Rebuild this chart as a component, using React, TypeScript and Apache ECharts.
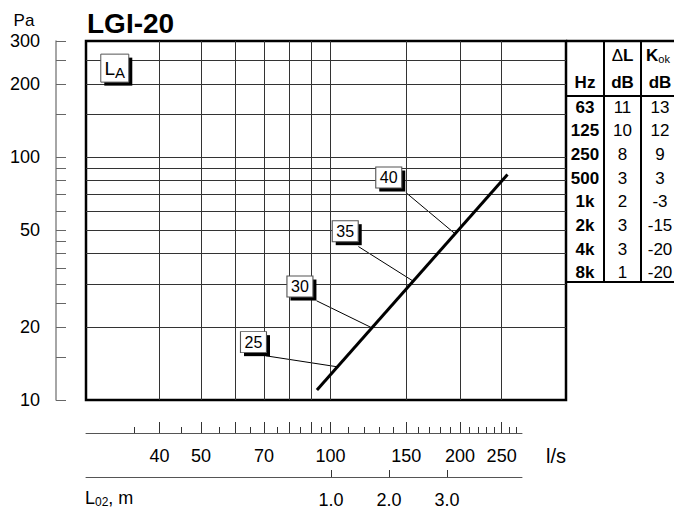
import React, { useEffect, useRef } from "react";
import * as echarts from "echarts";

const FONT = "'Liberation Sans', Arial, Helvetica, sans-serif";

// fan characteristic (flow l/s, pressure Pa)
const curveFlow = [93, 258];
const curvePressure = [11, 84.7];

// sound level markers (dB(A)) along the characteristic
const levelTexts = ["25", "30", "35", "40"];
const boxFlow = [66.2, 84.9, 108.2, 136.6];
const boxPressure = [17.3, 29.3, 49.5, 82.3];
const leaderFromFlow = [70.7, 92.8, 116.1, 149.7];
const leaderFromPressure = [15.2, 25.6, 42.8, 71.4];
const leaderToFlow = [103.6, 124.9, 155.4, 194.6];
const leaderToPressure = [13.7, 19.8, 30.9, 48.4];

const laFlow = [31.5];
const laPressure = [232];

// axes
const pressureTicks = [10, 15, 20, 25, 30, 35, 40, 45, 50, 60, 70, 80, 90, 100, 150, 200, 250, 300];
const pressureLabels = [10, 20, 50, 100, 200, 300];
const pressureGrid = [20, 30, 40, 50, 60, 70, 80, 90, 100, 150, 200, 250];
const flowGrid = [40, 50, 60, 70, 80, 90, 100, 150, 200, 250];
const flowMajorTicks = [40, 50, 60, 70, 80, 90, 100, 150, 200, 250];
const flowMinorTicks = [35, 45, 55, 65, 75, 85, 95, 110, 120, 130, 140, 160, 170, 180, 190, 210, 220, 230, 240, 260, 270];
const flowLabels = [40, 50, 70, 100, 150, 200, 250];
const distanceTicks = [1, 2, 3];

// table
const tableHz = ["63", "125", "250", "500", "1k", "2k", "4k", "8k"];
const tableDeltaL = [11, 10, 8, 3, 2, 3, 3, 1];
const tableKok = [13, 12, 9, 3, -3, -15, -20, -20];

const FLOW_MIN = 27.0;
const FLOW_MAX = 352.9;
const FLOW_AXIS_MAX = 278.8;
const P_MIN = 10;
const P_MAX = 300;
const DIST_MIN = -3.224;
const DIST_MAX = 4.293;

function buildOption() {
  const curveData = curveFlow.map((f, i) => [f, curvePressure[i]]);
  const boxData = levelTexts.map((t, i) => ({ name: t, value: [boxFlow[i], boxPressure[i]] }));

  const leaderSeries = levelTexts.map((t, i) => ({
    type: "line",
    name: "leader" + t,
    xAxisIndex: 0,
    yAxisIndex: 0,
    data: [
      [leaderFromFlow[i], leaderFromPressure[i]],
      [leaderToFlow[i], leaderToPressure[i]],
    ],
    symbol: "none",
    silent: true,
    lineStyle: { color: "#000", width: 1 },
    z: 4,
  }));

  const rowY0 = 107;
  const rowStep = 23.7;
  const c1 = 585;
  const c2 = 622.5;
  const c3 = 660;

  const graphics: any[] = [];
  const line = (x1: number, y1: number, x2: number, y2: number, w: number) =>
    graphics.push({ type: "line", silent: true, shape: { x1, y1, x2, y2 }, style: { stroke: "#000", lineWidth: w } });
  line(566, 41, 674, 41, 2.5);
  line(566, 96, 674, 96, 2);
  line(566, 282, 674, 282, 2);
  line(604, 41, 604, 282, 2);
  line(641, 41, 641, 282, 2);

  const text = (x: number, y: number, t: string, bold: boolean, size: number, extra: any = {}) =>
    graphics.push({
      type: "text",
      x,
      y,
      silent: true,
      style: {
        text: t,
        fill: "#000",
        fontSize: size,
        fontWeight: bold ? "bold" : "normal",
        fontFamily: FONT,
        align: "center",
        verticalAlign: "middle",
        ...extra,
      },
    });

  text(c1, 82, "Hz", true, 17);
  text(c2, 82, "dB", true, 17);
  text(c3, 82, "dB", true, 17);
  text(c2, 55, "{n|Δ}{b|L}", true, 17, {
    rich: {
      n: { fontSize: 17, fontWeight: "normal", fontFamily: FONT },
      b: { fontSize: 17, fontWeight: "bold", fontFamily: FONT },
    },
  });
  text(c3 - 2, 55, "{b|K}{s|ok}", true, 17, {
    rich: {
      b: { fontSize: 17, fontWeight: "bold", fontFamily: FONT },
      s: { fontSize: 11, fontWeight: "normal", fontFamily: FONT, padding: [7, 0, 0, 0] },
    },
  });
  tableHz.forEach((hz, i) => {
    const y = rowY0 + i * rowStep;
    text(c1, y, hz, true, 17);
    text(c2, y, String(tableDeltaL[i]), false, 17);
    text(c3, y, String(tableKok[i]), false, 17);
  });

  // titles / axis names
  graphics.push({
    type: "text",
    x: 87,
    y: 23.5,
    silent: true,
    style: { text: "LGI-20", fill: "#000", fontSize: 28, fontWeight: "bold", fontFamily: FONT, align: "left", verticalAlign: "middle" },
  });
  graphics.push({
    type: "text",
    x: 24,
    y: 20.5,
    silent: true,
    style: { text: "Pa", fill: "#000", fontSize: 17, fontFamily: FONT, align: "center", verticalAlign: "middle" },
  });
  graphics.push({
    type: "text",
    x: 556,
    y: 456,
    silent: true,
    style: { text: "l/s", fill: "#000", fontSize: 20, fontFamily: FONT, align: "center", verticalAlign: "middle" },
  });
  graphics.push({
    type: "text",
    x: 85,
    y: 498,
    silent: true,
    style: {
      text: "{a|L}{b|02}{a|, m}",
      fill: "#000",
      fontFamily: FONT,
      align: "left",
      verticalAlign: "middle",
      rich: {
        a: { fontSize: 18, fontFamily: FONT },
        b: { fontSize: 12, fontFamily: FONT, padding: [8, 0, 0, 0] },
      },
    },
  });

  const labelStyle = { fontSize: 18, color: "#000", fontFamily: FONT };

  return {
    animation: false,
    textStyle: { fontFamily: FONT },
    grid: [
      { left: 86, top: 41, width: 480, height: 359, show: true, borderColor: "#000", borderWidth: 2.5, backgroundColor: "transparent" },
      { left: 86, top: 413, width: 436, height: 20 },
      { left: 86, top: 457, width: 436, height: 20 },
    ],
    xAxis: [
      { type: "log", gridIndex: 0, min: FLOW_MIN, max: FLOW_MAX, show: false },
      {
        type: "log",
        gridIndex: 1,
        min: FLOW_MIN,
        max: FLOW_AXIS_MAX,
        position: "bottom",
        axisLine: { show: true, lineStyle: { color: "#555", width: 1 } },
        axisTick: { show: true, inside: true, length: 11, customValues: flowMajorTicks, lineStyle: { color: "#333", width: 1 } },
        axisLabel: { customValues: flowLabels, margin: 14, formatter: (v: number) => String(Math.round(v)), ...labelStyle },
        splitLine: { show: false },
      },
      {
        type: "log",
        gridIndex: 1,
        min: FLOW_MIN,
        max: FLOW_AXIS_MAX,
        position: "bottom",
        axisLine: { show: false },
        axisTick: { show: true, inside: true, length: 6, customValues: flowMinorTicks, lineStyle: { color: "#333", width: 1 } },
        axisLabel: { show: false },
        splitLine: { show: false },
      },
      {
        type: "value",
        gridIndex: 2,
        min: DIST_MIN,
        max: DIST_MAX,
        position: "bottom",
        axisLine: { show: true, lineStyle: { color: "#555", width: 1 } },
        axisTick: { show: true, inside: true, length: 7, customValues: distanceTicks, lineStyle: { color: "#333", width: 1 } },
        axisLabel: { customValues: distanceTicks, margin: 14, formatter: (v: number) => v.toFixed(1), ...labelStyle },
        splitLine: { show: false },
      },
    ],
    yAxis: [
      {
        type: "log",
        gridIndex: 0,
        min: P_MIN,
        max: P_MAX,
        position: "left",
        offset: 30,
        axisLine: { show: true, lineStyle: { color: "#888", width: 1.5 } },
        axisTick: { show: true, inside: true, length: 10, customValues: pressureTicks, lineStyle: { color: "#666", width: 1 } },
        axisLabel: { customValues: pressureLabels, margin: 16, formatter: (v: number) => String(Math.round(v)), ...labelStyle },
        splitLine: { show: false },
      },
      { type: "value", gridIndex: 1, show: false, min: 0, max: 1 },
      { type: "value", gridIndex: 2, show: false, min: 0, max: 1 },
    ],
    graphic: graphics,
    series: [
      {
        type: "line",
        name: "grid",
        xAxisIndex: 0,
        yAxisIndex: 0,
        data: curveData,
        symbol: "none",
        silent: true,
        lineStyle: { opacity: 0, width: 0 },
        z: 1,
        markLine: {
          silent: true,
          symbol: ["none", "none"],
          label: { show: false },
          lineStyle: { color: "#333", width: 1, type: "solid" },
          emphasis: { disabled: true },
          data: [...flowGrid.map((v) => ({ xAxis: v })), ...pressureGrid.map((v) => ({ yAxis: v }))],
        },
      },
      {
        type: "line",
        name: "characteristic",
        xAxisIndex: 0,
        yAxisIndex: 0,
        data: curveData,
        symbol: "none",
        silent: true,
        lineStyle: { color: "#000", width: 3 },
        z: 5,
      },
      ...leaderSeries,
      {
        type: "scatter",
        name: "boxShadow",
        xAxisIndex: 0,
        yAxisIndex: 0,
        data: boxData,
        symbol: "rect",
        symbolSize: [26, 21],
        symbolOffset: [3.5, 3.5],
        itemStyle: { color: "#000", opacity: 1 },
        silent: true,
        z: 6,
      },
      {
        type: "scatter",
        name: "boxes",
        xAxisIndex: 0,
        yAxisIndex: 0,
        data: boxData,
        symbol: "rect",
        symbolSize: [26, 21],
        itemStyle: { color: "#fff", borderColor: "#555", borderWidth: 1, opacity: 1 },
        label: { show: true, position: "inside", formatter: "{b}", fontSize: 16, color: "#000", fontFamily: FONT },
        silent: true,
        z: 7,
      },
      {
        type: "scatter",
        name: "laShadow",
        xAxisIndex: 0,
        yAxisIndex: 0,
        data: [[laFlow[0], laPressure[0]]],
        symbol: "rect",
        symbolSize: [28, 28],
        symbolOffset: [3.5, 3.5],
        itemStyle: { color: "#000", opacity: 1 },
        silent: true,
        z: 6,
      },
      {
        type: "scatter",
        name: "laBox",
        xAxisIndex: 0,
        yAxisIndex: 0,
        data: [{ name: "LA", value: [laFlow[0], laPressure[0]] }],
        symbol: "rect",
        symbolSize: [28, 28],
        itemStyle: { color: "#fff", borderColor: "#555", borderWidth: 1, opacity: 1 },
        label: {
          show: true,
          position: "inside",
          formatter: "{l|L}{s|A}",
          color: "#000",
          rich: {
            l: { fontSize: 19, fontFamily: FONT, color: "#000" },
            s: { fontSize: 15, fontFamily: FONT, color: "#000", padding: [8, 0, 0, 0] },
          },
        },
        silent: true,
        z: 7,
      },
    ],
  };
}

export default function App() {
  const ref = useRef<HTMLDivElement>(null);
  useEffect(() => {
    document.body.style.margin = "0";
    if (!ref.current) return;
    const chart = echarts.init(ref.current, null, { renderer: "svg" });
    chart.setOption(buildOption() as any);
    return () => chart.dispose();
  }, []);
  return <div ref={ref} style={{ width: 674, height: 510, background: "#fff" }} />;
}
